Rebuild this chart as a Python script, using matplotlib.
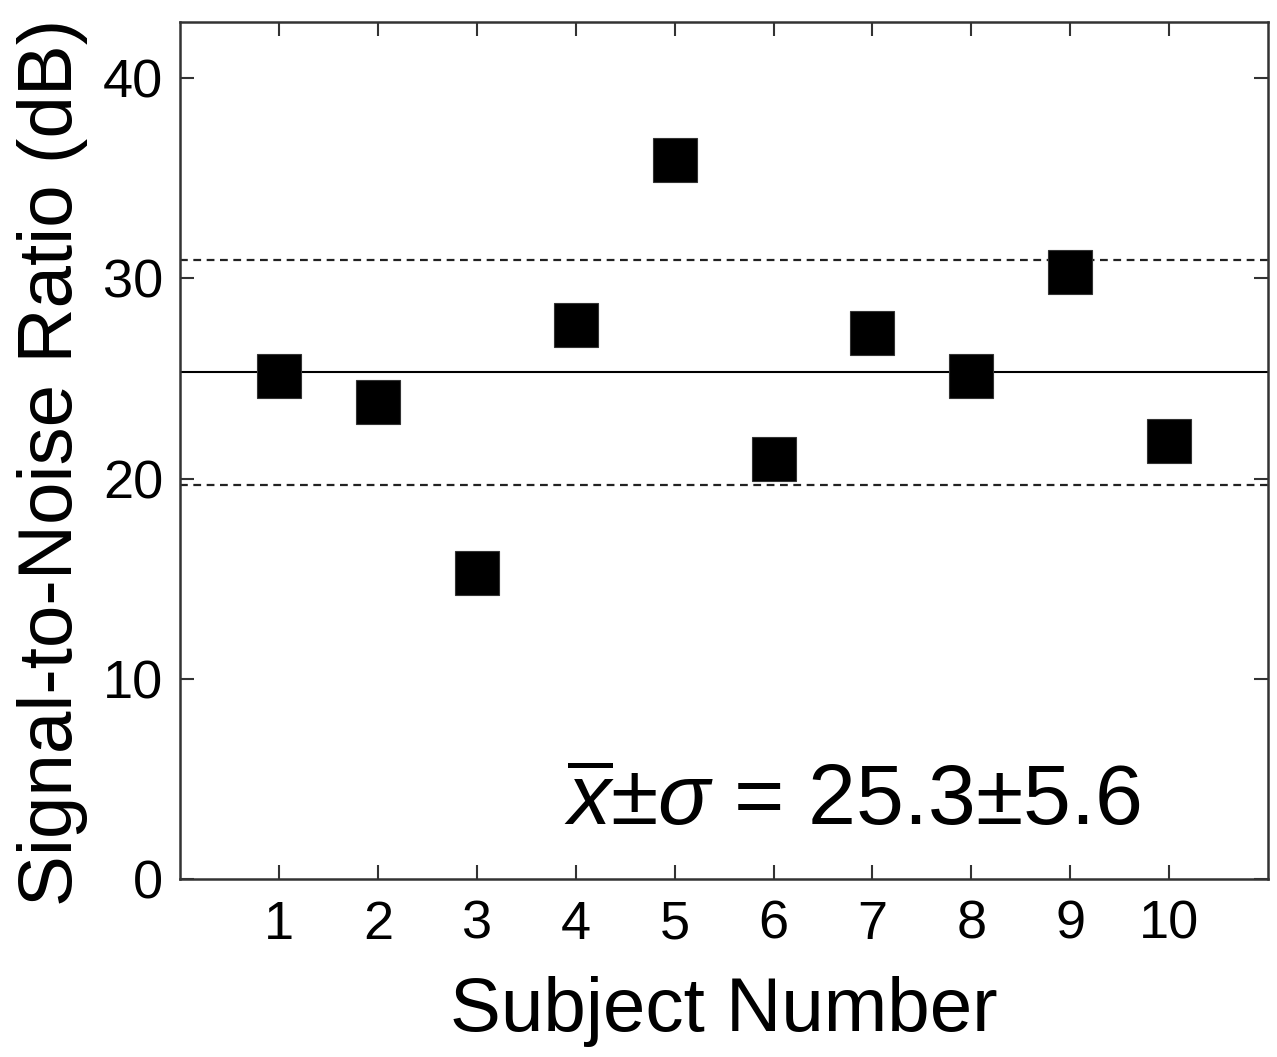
import numpy as np
import matplotlib
matplotlib.use("Agg")
import matplotlib.pyplot as plt

plt.rcParams["font.family"] = ["Liberation Sans", "DejaVu Sans"]
plt.rcParams["mathtext.fontset"] = "custom"
plt.rcParams["mathtext.rm"] = "Liberation Sans"
plt.rcParams["mathtext.it"] = "Liberation Sans:italic"

subjects = [1, 2, 3, 4, 5, 6, 7, 8, 9, 10]
snr_db = [25.1, 23.8, 15.3, 27.65, 35.9, 21.0, 27.25, 25.1, 30.3, 21.85]
mean_snr = 25.3
std_snr = 5.6
y_ticks = [0, 10, 20, 30, 40]

fig = plt.figure(figsize=(12.77, 10.57), dpi=100)
ax = fig.add_axes([0.141, 0.1684, 0.852, 0.8108])

# mean and mean +/- sd
ax.axhline(mean_snr, color="black", lw=1.5, zorder=1)
ax.axhline(mean_snr + std_snr, color="#222222", lw=1.6, ls=(0, (3.5, 2.5)), zorder=1)
ax.axhline(mean_snr - std_snr, color="#222222", lw=1.6, ls=(0, (3.5, 2.5)), zorder=1)

ax.plot(subjects, snr_db, ls="none", marker="s", ms=32, mfc="black", mec="#333333", mew=0.8, zorder=3)

ax.set_xlim(0, 11)
ax.set_ylim(0, 42.8)
ax.set_xticks(subjects)
ax.set_yticks(y_ticks)
ax.tick_params(direction="in", length=10, width=1.5, color="#333333",
               top=True, right=True, labelsize=39, pad=12)
ax.tick_params(axis="x", pad=15)
for s in ax.spines.values():
    s.set_linewidth(1.8)
    s.set_color("#333333")

ax.set_xlabel("Subject Number", fontsize=55, labelpad=19)
ax.set_ylabel("Signal-to-Noise Ratio (dB)", fontsize=55)
ax.yaxis.set_label_coords(-0.0846, 0.4866)

ax.text(3.88, 2.7, r"$\overline{x}$$\pm$$\sigma$ = 25.3±5.6", fontsize=62, va="baseline")

fig.savefig("out.png", dpi=100)
